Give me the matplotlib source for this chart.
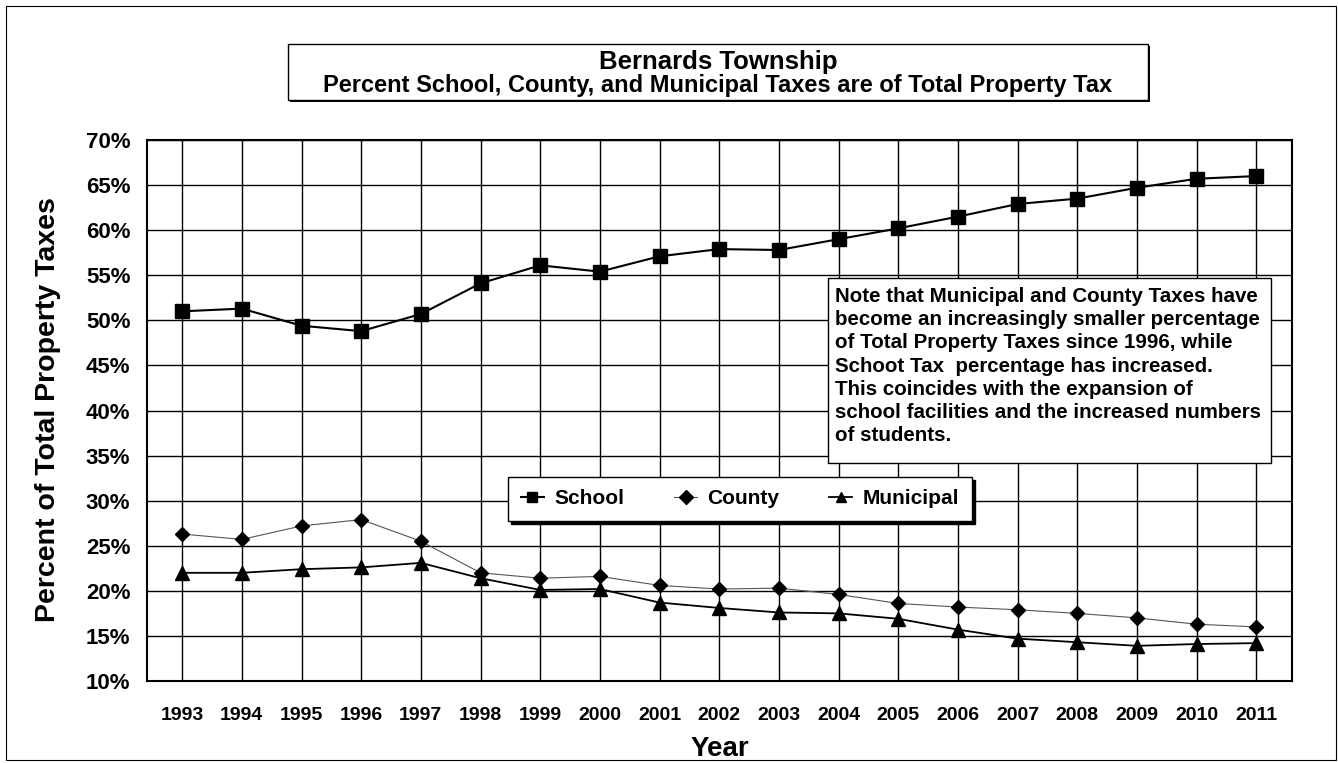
import matplotlib
matplotlib.use('Agg')
import matplotlib.pyplot as plt
from matplotlib.patches import Rectangle
from matplotlib.ticker import FuncFormatter, MultipleLocator

plt.rcParams['font.family'] = ['Liberation Sans', 'DejaVu Sans']
plt.rcParams['font.weight'] = 'bold'

years = list(range(1993, 2012))
school = [51.0, 51.3, 49.4, 48.8, 50.7, 54.1, 56.1, 55.4, 57.1, 57.9, 57.8, 59.0,
          60.2, 61.5, 62.9, 63.5, 64.7, 65.7, 66.0]
county = [26.3, 25.7, 27.2, 27.9, 25.5, 22.0, 21.4, 21.6, 20.6, 20.2, 20.3, 19.6,
          18.6, 18.2, 17.9, 17.5, 17.0, 16.3, 16.0]
municipal = [22.0, 22.0, 22.4, 22.6, 23.1, 21.4, 20.1, 20.2, 18.7, 18.1, 17.6, 17.5,
             16.9, 15.7, 14.7, 14.3, 13.9, 14.1, 14.2]

title1 = 'Bernards Township'
title2 = 'Percent School, County, and Municipal Taxes are of Total Property Tax'
note = ('Note that Municipal and County Taxes have\n'
        'become an increasingly smaller percentage\n'
        'of Total Property Taxes since 1996, while\n'
        'Schoot Tax  percentage has increased.\n'
        'This coincides with the expansion of\n'
        'school facilities and the increased numbers\n'
        'of students.')

W, H = 1338, 763
fig = plt.figure(figsize=(W / 100, H / 100), dpi=100)


def fx(x):
    return x / W


def fy(y):
    return 1 - y / H


def box(x0, y0, x1, y1, lw=1.0, z=5, shadow=0):
    # box in pixel coords (top-left origin), optional black drop shadow
    if shadow:
        fig.add_artist(Rectangle((fx(x0 + shadow), fy(y1 + shadow)), fx(x1 - x0), (y1 - y0) / H,
                                 transform=fig.transFigure, facecolor='black',
                                 edgecolor='none', zorder=z))
    fig.add_artist(Rectangle((fx(x0), fy(y1)), fx(x1 - x0), (y1 - y0) / H,
                             transform=fig.transFigure, facecolor='white',
                             edgecolor='black', lw=lw, zorder=z + 0.1))


ax = fig.add_axes([fx(147), fy(681), fx(1292 - 147), (681 - 140) / H])

ax.plot(years, school, color='black', lw=1.5, marker='s', ms=9.5, zorder=4, label='School')
ax.plot(years, county, color='#555555', lw=0.8, marker='D', ms=7, mfc='black',
        mec='black', zorder=4, label='County')
ax.plot(years, municipal, color='black', lw=1.3, marker='^', ms=10, zorder=4, label='Municipal')

ax.set_xlim(1992.41, 2011.6)
ax.set_ylim(10, 70)
ax.set_xticks(years)
ax.yaxis.set_major_locator(MultipleLocator(5))
ax.yaxis.set_major_formatter(FuncFormatter(lambda v, p: '%d%%' % v))
ax.grid(True, color='black', lw=1.0)
ax.set_axisbelow(True)
ax.tick_params(length=0)
ax.tick_params(axis='y', pad=12, labelsize=16)
ax.tick_params(axis='x', pad=19, labelsize=14)
for s in ax.spines.values():
    s.set_linewidth(1.5)
for lab in ax.get_xticklabels() + ax.get_yticklabels():
    lab.set_fontweight('bold')

ax.set_xlabel('Year', fontsize=20, fontweight='bold', labelpad=8)
fig.text(fx(48), fy(410), 'Percent of Total Property Taxes', rotation=90,
         fontsize=20.5, fontweight='bold', ha='center', va='center')

leg = ax.legend(loc='center', bbox_to_anchor=(fx(740), fy(499)),
                bbox_transform=fig.transFigure, ncol=3,
                frameon=True, fancybox=False, shadow={'color': 'black', 'alpha': 1},
                edgecolor='black', framealpha=1, handlelength=1.1,
                columnspacing=2.4, borderpad=0.6, handletextpad=0.5,
                borderaxespad=0, prop={'weight': 'bold', 'size': 15})
leg.get_frame().set_linewidth(1.0)
leg.set_zorder(10)
for h in leg.legend_handles:
    h.set_markersize(7)

# title box
box(288, 44, 1148, 100, shadow=2)
fig.text(fx(718), fy(69), title1, ha='center', va='baseline', fontsize=18.5,
         fontweight='bold', zorder=7)
fig.text(fx(718), fy(92), title2, ha='center', va='baseline', fontsize=17,
         fontweight='bold', zorder=7)

# note box
box(828, 278, 1271, 463, z=8)
fig.text(fx(835), fy(287), note, ha='left', va='top', fontsize=14.8,
         fontweight='bold', linespacing=1.28, zorder=9)

# outer border
fig.add_artist(Rectangle((fx(6), fy(760)), fx(1330), 754 / H, transform=fig.transFigure,
                         fill=False, edgecolor='black', lw=0.8, zorder=0))

fig.savefig('out.png', dpi=100)
